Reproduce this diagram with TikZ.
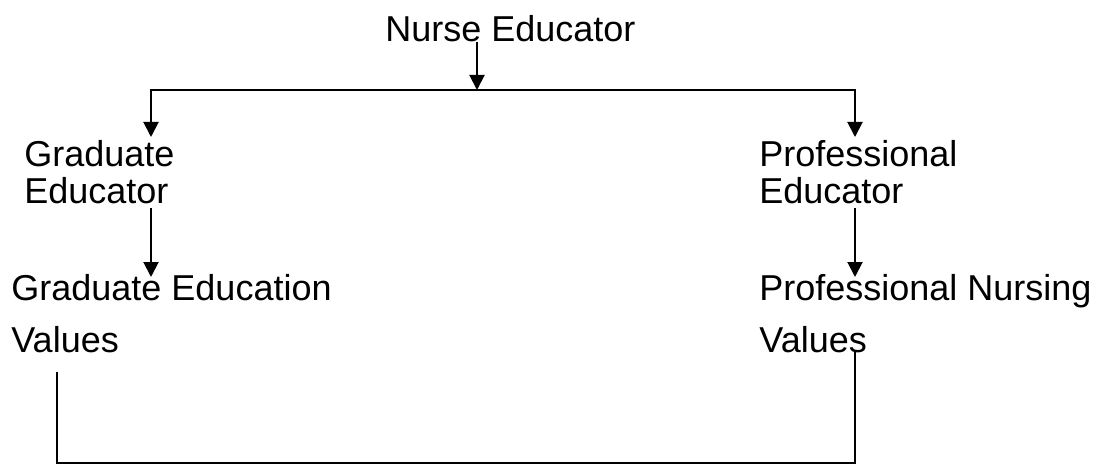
\documentclass[tikz,border=0pt]{standalone}
\usepackage{fontspec}
\setmainfont{Liberation Sans}
\usetikzlibrary{arrows.meta,calc}

\tikzset{
  label/.style={inner sep=0pt, anchor=base west, align=left},
  link/.style={line width=1pt},
  arrow/.style={link, -{Triangle[length=7.5pt,width=7.5pt]}}
}

\begin{document}
\begin{tikzpicture}[x=0.5pt,y=-0.5pt]
        \useasboundingbox (0,0) rectangle (1098,465);

        % Top
        \node[label, font=\fontsize{18}{20}\selectfont] (nurse) at (385,42) {Nurse Educator};
        \coordinate (split) at (477,90);
        \coordinate (gx) at (151,0);
        \coordinate (px) at (855,0);

        % Educators (base = last line)
        \node[label, font=\fontsize{18}{18.5}\selectfont] (gedu) at (24,204) {Graduate\\Educator};
        \node[label, font=\fontsize{18}{18.5}\selectfont] (pedu) at (759,204) {Professional\\Educator};

        % Values
        \node[label, font=\fontsize{18}{26}\selectfont] (gval) at (11,352) {Graduate Education\\Values};
        \node[label, font=\fontsize{18}{26}\selectfont] (pval) at (759,352) {Professional Nursing\\Values};

        % Arrows
        \draw[arrow] (nurse.base -| split) -- (split);
        \draw[arrow] (split) -| (px |- 0,137);
        \draw[arrow] (split) -| (gx |- 0,137);
        \draw[arrow] ($(gedu.base -| gx)+(0,4)$) -- (gx |- 0,277);
        \draw[arrow] ($(pedu.base -| px)+(0,4)$) -- (px |- 0,277);

        % Bottom link
        \coordinate (join) at (57,463);
        \draw[link] ($(gval.base -| join)+(0,20)$) -- (join) -- (join -| px) -- ($(pval.base -| px)+(0,-2)$);
\end{tikzpicture}
\end{document}
